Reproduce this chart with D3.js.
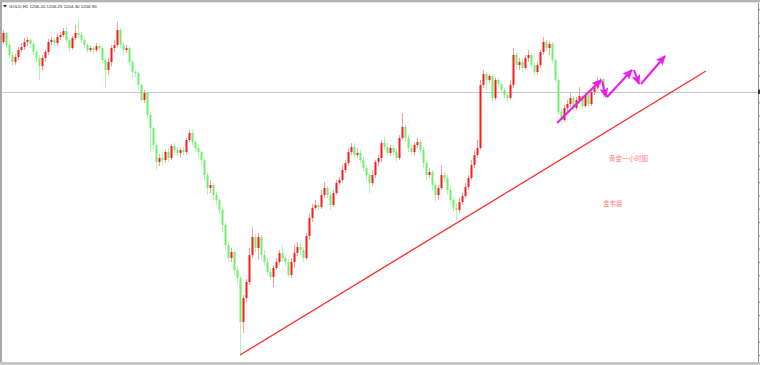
<!DOCTYPE html>
<html><head><meta charset="utf-8">
<script src="https://cdn.jsdelivr.net/npm/d3@7"></script>
<style>html,body{margin:0;padding:0;background:#fff;overflow:hidden}</style>
</head><body>
<svg id="c" width="760" height="365"></svg>
<script>
const opens = [
1209.9,1210.8,1209.6,1208.6,1207.9,1208.4,1209.1,1209.4,1209.9,1210.1,
1209.7,1208.9,1208.3,1207.5,1208.3,1208.9,1209.9,1210.1,1209.8,1210.4,
1210.6,1211.0,1210.1,1209.3,1210.3,1210.8,1210.6,1210.1,1209.6,1209.1,
1209.3,1209.1,1209.5,1209.3,1208.1,1207.1,1207.9,1209.3,1209.6,1211.1,
1209.6,1209.1,1209.3,1207.9,1206.9,1206.8,1205.6,1204.1,1204.8,1202.6,
1201.3,1199.6,1197.9,1198.3,1198.1,1198.9,1198.3,1199.5,1199.1,1198.8,
1199.1,1198.9,1200.1,1200.8,1199.9,1199.3,1198.9,1198.1,1196.6,1195.3,
1195.6,1194.6,1194.1,1193.1,
1191.6,1189.6,1188.3,1188.9,1187.1,1186.3,1181.9,1184.3,1185.9,1188.6,
1190.4,1189.3,1190.4,1188.6,1187.9,1186.9,1186.4,1187.3,1187.9,1188.8,
1188.3,1187.9,1186.6,1187.9,1188.8,1189.4,1189.1,1188.3,
1190.5,1192.3,1193.3,1193.6,1193.4,1194.6,1195.3,1194.6,1193.6,1194.8,
1195.8,1196.1,1197.1,1197.8,1198.9,1199.4,1198.6,1198.8,1198.1,1197.3,
1196.6,1195.8,1196.6,1197.9,1198.3,1199.8,1199.4,1198.8,1199.3,1198.9,
1198.3,1200.3,1201.4,1200.3,1199.3,1198.9,1199.6,1199.9,1199.1,1197.8,
1196.6,1196.9,1195.6,1194.6,1195.3,1196.6,1196.3,1195.1,1194.1,1193.3,
1193.1,1193.9,1194.5,1195.4,
1196.3,1197.6,1198.6,1199.3,1205.6,1206.7,1206.1,1206.5,1204.3,1206.1,
1205.7,1205.1,1204.6,1204.3,1205.6,1208.6,1207.6,1207.9,1207.3,1208.3,
1208.6,1207.6,1206.9,1207.6,1208.9,1209.9,1209.3,1209.7,1208.1,1206.1,
1202.9,1202.1,1203.3,1203.7,1204.3,1203.3,1204.1,1204.5,1203.5,1204.6,
1203.7,1204.9,1205.5,1206.0,1206.2];
const highs = [
1211.1,1210.9,1209.8,1208.9,1208.7,1209.4,1209.8,1210.3,1210.4,1210.3,
1209.9,1209.1,1208.6,1208.6,1209.1,1210.2,1210.4,1210.3,1210.8,1210.9,
1211.3,1211.4,1210.3,1210.5,1211.6,1212.1,1210.9,1210.3,1209.8,1209.6,
1209.5,1209.8,1209.7,1209.5,1208.3,1208.3,1209.6,1210.1,1211.9,1211.3,
1209.9,1209.6,1209.5,1208.1,1207.1,1207.0,1205.7,1205.1,1204.9,1202.9,
1201.5,1199.8,1198.7,1198.9,1199.1,1199.3,1199.7,1199.8,1199.4,1199.3,
1199.4,1200.3,1201.1,1201.1,1200.1,1199.6,1199.1,1198.3,1196.9,1196.1,
1195.8,1194.9,1194.3,1193.4,
1191.9,1189.9,1189.3,1189.1,1187.5,1186.5,1184.6,1186.2,1189.3,1191.4,
1190.7,1190.8,1190.6,1189.1,1188.3,1187.3,1187.6,1188.3,1189.1,1189.6,
1188.6,1188.3,1188.3,1189.6,1189.9,1189.8,1189.4,1190.8,
1192.7,1193.7,1194.1,1193.9,1195.1,1195.9,1195.5,1194.9,1195.1,1196.1,
1196.4,1197.6,1198.1,1199.3,1199.8,1199.8,1199.3,1199.1,1198.4,1197.6,
1196.9,1197.1,1198.1,1198.6,1200.1,1200.4,1199.8,1199.6,1199.6,1199.3,
1200.6,1202.8,1201.7,1200.6,1199.6,1199.9,1200.3,1200.1,1199.4,1198.1,
1197.3,1197.1,1195.9,1195.6,1197.6,1196.9,1196.6,1195.5,1194.4,1193.8,
1194.3,1194.8,1195.8,1196.6,
1198.1,1199.1,1200.1,1206.1,1207.1,1206.9,1206.7,1206.7,1206.4,1206.3,
1205.9,1205.3,1204.9,1206.1,1209.3,1208.9,1208.3,1208.3,1208.6,1209.1,
1208.8,1207.9,1207.9,1209.1,1210.4,1210.1,1210.0,1209.9,1208.3,1206.3,
1203.3,1203.6,1204.1,1204.8,1204.5,1204.4,1205.4,1204.7,1204.9,1204.8,
1205.3,1205.8,1206.4,1206.3,1206.25];
const lows = [
1209.7,1209.3,1208.3,1207.5,1207.6,1208.1,1208.9,1209.1,1209.5,1209.3,
1208.6,1207.9,1206.1,1207.1,1207.9,1208.6,1209.6,1209.5,1209.5,1210.1,
1210.4,1209.9,1208.9,1209.1,1210.1,1210.3,1209.8,1209.3,1208.8,1208.9,
1208.8,1208.9,1209.1,1207.8,1205.3,1206.6,1207.5,1208.9,1209.4,1209.3,
1208.6,1208.8,1207.5,1206.3,1206.4,1205.1,1203.9,1203.8,1202.3,1198.9,
1199.1,1197.1,1197.5,1197.6,1197.8,1197.9,1198.1,1198.8,1198.5,1198.4,
1198.6,1198.7,1199.9,1199.5,1198.9,1198.3,1197.6,1196.1,1194.6,1194.8,
1194.1,1193.6,1192.7,1190.9,
1189.1,1187.9,1187.9,1186.6,1185.8,1178.6,1180.8,1183.9,1185.6,1188.3,
1188.9,1188.1,1188.1,1187.6,1186.5,1186.1,1185.4,1187.1,1187.6,1187.9,
1187.5,1186.4,1186.3,1187.3,1188.5,1188.6,1187.9,1188.1,
1190.1,1191.9,1193.1,1193.1,1193.2,1194.3,1194.3,1193.1,1193.4,1194.6,
1195.6,1195.8,1196.8,1197.5,1198.6,1198.3,1198.3,1197.8,1196.9,1196.1,
1194.8,1195.5,1196.3,1197.5,1197.9,1199.1,1198.5,1198.5,1198.6,1197.9,
1198.1,1200.1,1199.9,1198.9,1198.6,1198.6,1199.3,1198.8,1197.3,1196.1,
1196.3,1195.1,1193.9,1194.1,1195.1,1195.9,1194.6,1193.6,1192.9,1192.1,
1192.8,1193.6,1194.3,1195.1,
1196.1,1197.3,1198.3,1199.1,1205.3,1205.1,1205.9,1203.9,1204.1,1205.4,
1204.8,1204.3,1203.8,1204.1,1205.3,1207.1,1207.1,1206.9,1207.1,1207.9,
1207.3,1206.6,1206.6,1207.3,1208.6,1208.9,1208.6,1207.8,1205.8,1202.6,
1201.8,1201.9,1202.9,1203.4,1203.0,1203.1,1203.7,1203.2,1203.3,1203.4,
1203.5,1204.6,1205.2,1205.6,1204.3];
const closes = [
1210.8,1209.6,1208.6,1207.9,1208.4,1209.1,1209.4,1209.9,1210.1,1209.7,
1208.9,1208.3,1207.5,1208.3,1208.9,1209.9,1210.1,1209.8,1210.4,1210.6,
1211.0,1210.1,1209.3,1210.3,1210.8,1210.6,1210.1,1209.6,1209.1,1209.3,
1209.1,1209.5,1209.3,1208.1,1207.1,1207.9,1209.3,1209.6,1211.1,1209.6,
1209.1,1209.3,1207.9,1206.9,1206.8,1205.6,1204.1,1204.8,1202.6,1201.3,
1199.6,1197.9,1198.3,1198.1,1198.9,1198.3,1199.5,1199.1,1198.8,1199.1,
1198.9,1200.1,1200.8,1199.9,1199.3,1198.9,1198.1,1196.6,1195.3,1195.6,
1194.6,1194.1,1193.1,1191.6,
1189.6,1188.3,1188.9,1187.1,1186.3,1181.9,1184.3,1185.9,1188.6,1190.4,
1189.3,1190.4,1188.6,1187.9,1186.9,1186.4,1187.3,1187.9,1188.8,1188.3,
1187.9,1186.6,1187.9,1188.8,1189.4,1189.1,1188.3,1190.5,
1192.3,1193.3,1193.6,1193.4,1194.6,1195.3,1194.6,1193.6,1194.8,1195.8,
1196.1,1197.1,1197.8,1198.9,1199.4,1198.6,1198.8,1198.1,1197.3,1196.6,
1195.8,1196.6,1197.9,1198.3,1199.8,1199.4,1198.8,1199.3,1198.9,1198.3,
1200.3,1201.4,1200.3,1199.3,1198.9,1199.6,1199.9,1199.1,1197.8,1196.6,
1196.9,1195.6,1194.6,1195.3,1196.6,1196.3,1195.1,1194.1,1193.3,1193.1,
1193.9,1194.5,1195.4,1196.3,
1197.6,1198.6,1199.3,1205.6,1206.7,1206.1,1206.5,1204.3,1206.1,1205.7,
1205.1,1204.6,1204.3,1205.6,1208.6,1207.6,1207.9,1207.3,1208.3,1208.6,
1207.6,1206.9,1207.6,1208.9,1209.9,1209.3,1209.7,1208.1,1206.1,1202.9,
1202.1,1203.3,1203.7,1204.3,1203.3,1204.1,1204.5,1203.5,1204.6,1203.7,
1204.9,1205.5,1206.0,1206.1,1204.9];

const headerText = "GOLD,H1 1206.20 1206.25 1204.30 1204.90";
const bidPrice = 1204.90;
// support trend line (bar index, price)
const trendIdx = [79, 234.33];
const trendPrice = [1178.6, 1207.0];
// forecast arrows (bar index / price of start and end)
const arrowStartIdx   = [184.67, 199.67, 201.33, 210.33, 212.67];
const arrowStartPrice = [1201.8, 1206.0, 1204.4, 1207.1, 1205.7];
const arrowEndIdx     = [199.33, 201.0, 209.67, 212.0, 220.67];
const arrowEndPrice   = [1206.1, 1204.4, 1207.1, 1205.7, 1208.5];
const noteTexts = ["黄金一小时图", "金韦馨"];
const noteIdx = [202, 200];
const notePrice = [1198.0, 1193.5];

const N = Math.min(opens.length, highs.length, lows.length, closes.length);
const svg = d3.select("#c");
const x = d3.scaleLinear().domain([0, 200]).range([3, 603]);
const y = d3.scaleLinear().domain([1177.9, 1214.1]).range([362, 0]);

svg.append("rect").attr("width",760).attr("height",365).attr("fill","#fff");

// bid line
svg.append("line").attr("x1",2).attr("x2",758).attr("y1",Math.round(y(bidPrice))+0.5).attr("y2",Math.round(y(bidPrice))+0.5)
  .attr("stroke","#c4c8d0").attr("stroke-width",1);

// candles
const g = svg.append("g");
for (let i=0;i<N;i++){
  const up = closes[i] >= opens[i];
  const X = Math.round(x(i));
  g.append("rect").attr("x",X).attr("y",y(highs[i])).attr("width",1)
    .attr("height",Math.max(1,y(lows[i])-y(highs[i])))
    .attr("fill", up ? "#ff9a9a" : "#aaf8aa");
  const top = y(Math.max(opens[i],closes[i])), bot = y(Math.min(opens[i],closes[i]));
  g.append("rect").attr("x",X-0.5).attr("y",top).attr("width",2)
    .attr("height",Math.max(1,bot-top))
    .attr("fill", up ? "#ff1a1a" : "#6ef06e");
}

// trend line
svg.append("line").attr("x1",x(trendIdx[0])).attr("y1",y(trendPrice[0]))
  .attr("x2",x(trendIdx[1])).attr("y2",y(trendPrice[1]))
  .attr("stroke","#ff2a2a").attr("stroke-width",1.3);

// arrows
const defs = svg.append("defs");
defs.append("marker").attr("id","ah").attr("markerUnits","userSpaceOnUse")
  .attr("markerWidth",10).attr("markerHeight",9).attr("refX",9).attr("refY",4.5).attr("orient","auto")
  .append("path").attr("d","M0,0 L10,4.5 L0,9 L2,4.5 z").attr("fill","#ea1eea");
for (let k=0;k<arrowStartIdx.length;k++){
  svg.append("line").attr("x1",x(arrowStartIdx[k])).attr("y1",y(arrowStartPrice[k]))
    .attr("x2",x(arrowEndIdx[k])).attr("y2",y(arrowEndPrice[k]))
    .attr("stroke","#ea1eea").attr("stroke-width",2).attr("marker-end","url(#ah)");
}

// notes
noteTexts.forEach((t,k)=>{
  svg.append("text").attr("x",x(noteIdx[k])).attr("y",y(notePrice[k]))
    .attr("font-family","Noto Sans CJK SC").attr("font-size",6.5).attr("fill","#ff8080").text(t);
});

// frame
svg.append("rect").attr("x",0).attr("y",0).attr("width",2).attr("height",365).attr("fill","#a9a9a9");
svg.append("rect").attr("x",0).attr("y",0).attr("width",760).attr("height",2).attr("fill","#b3b3b3");
svg.append("rect").attr("x",2).attr("y",2).attr("width",758).attr("height",1).attr("fill","#e4e4e4");
svg.append("rect").attr("x",0).attr("y",362).attr("width",760).attr("height",3).attr("fill","#c6c6c6");

// right price axis
const axis = d3.axisRight(y).tickValues(d3.range(1178.6, 1214.1, 1.33)).tickSize(2).tickFormat("");
const ag = svg.append("g").attr("transform","translate(758,0)").call(axis);
ag.select(".domain").attr("stroke","#8a8a8a").attr("d","M0.5,3V362");
ag.selectAll(".tick line").attr("stroke","#8a8a8a");
svg.append("rect").attr("x",758).attr("y",y(bidPrice)-2).attr("width",2).attr("height",4).attr("fill","#333");

// header
svg.append("path").attr("d","M3,5 L7,5 L5,7.5 z").attr("fill","#222");
svg.append("text").attr("x",9).attr("y",8).attr("font-family","Liberation Sans").attr("font-size",4.4)
  .attr("fill","#222").text(headerText);
</script>
</body></html>
